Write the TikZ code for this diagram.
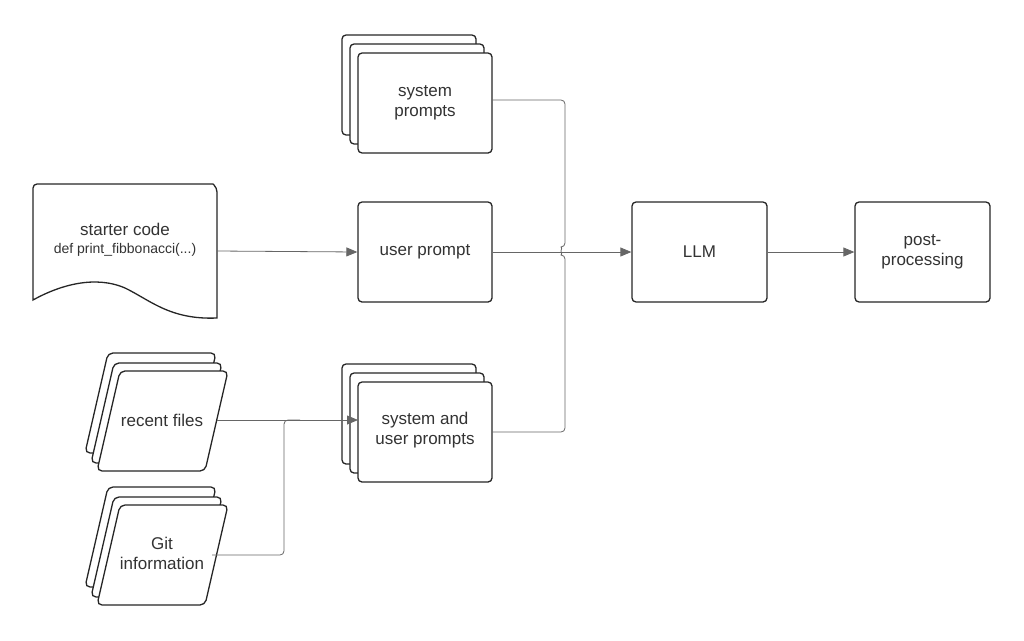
\documentclass[tikz,border=0pt]{standalone}
\usepackage{fontspec}
\setmainfont{Liberation Sans}
\usetikzlibrary{arrows.meta}
\begin{document}
\begin{tikzpicture}[x=1pt,y=-1pt,
  box/.style={draw=black!85,line width=1.3pt,rounded corners=4pt,fill=white},
  lbl/.style={font=\fontsize{17}{20}\selectfont,text=black!80,align=center},
  con/.style={draw=black!60,line width=0.8pt,rounded corners=4pt},
  arr/.style={con,-{Triangle[length=11pt,width=9pt]}}]
\useasboundingbox (0,0) rectangle (1024,640);
% stacked rectangles
\foreach \dx/\dy in {-16/-18,-8/-9}{
  \draw[box] (358+\dx,53+\dy) rectangle (492+\dx,153+\dy);
  \draw[box] (358+\dx,382+\dy) rectangle (492+\dx,482+\dy);}
\draw[box] (358,53) rectangle (492,153);
\node[lbl] (sys) at (425,103) {system\\prompts};
\coordinate (sysR) at (492,100);
\draw[box] (358,382) rectangle (492,482);
\node[lbl] (su) at (425,430) {system and\\user prompts};
\coordinate (suR) at (492,432);
\coordinate (suL) at (358,420);
\node[box,minimum width=134pt,minimum height=100pt,lbl] (up) at (425,252) {user prompt};
\node[box,minimum width=135pt,minimum height=100pt,lbl] (llm) at (699.5,252) {LLM};
\node[box,minimum width=135pt,minimum height=100pt,lbl] (pp) at (922.5,252) {post-\\processing};
% document
\draw[box,rounded corners=0pt] (33,188) to[rounded corners=4pt] (33,184) -- (213,184) to[rounded corners=4pt] (217,188) -- (217,318)
  .. controls (170,320) and (150,300) .. (125,288) .. controls (95,275) and (60,285) .. (33,300) -- cycle;
\node[lbl,font=\fontsize{17}{19}\selectfont] (sc) at (125,229) {starter code};
\node[lbl,font=\fontsize{14}{16}\selectfont] at (125,250) {def print\_fibbonacci(...)};
\coordinate (scR) at (217,251);
% parallelograms
\foreach \yy/\nm in {371/rf,505/gi}{
  \foreach \dx/\dy in {-12/-18,-6/-8,0/0}{
    \draw[box,rounded corners=5pt] (120+\dx,\yy+\dy) -- (228+\dx,\yy+\dy) -- (205+\dx,\yy+100+\dy) -- (97+\dx,\yy+100+\dy) -- cycle;}
}
\node[lbl] (rf) at (162,420) {recent files};
\node[lbl] (gi) at (162,553) {Git\\information};
\coordinate (rfR) at (217,420);
\coordinate (giR) at (212,555);
% connectors
\draw[arr] (scR) -- (up.west);
\draw[arr] (rfR) -- (suL);
\draw[con] (giR) -- (284,555) -- (284,420) -- (300,420);
\draw[con] (sysR) -- (565,100) -- (565,247) arc[start angle=-90,end angle=90,radius=-4pt] -- (565,432) -- (suR);
\draw[arr] (up.east) -- (llm.west);
\draw[arr] (llm.east) -- (pp.west);
\end{tikzpicture}
\end{document}
